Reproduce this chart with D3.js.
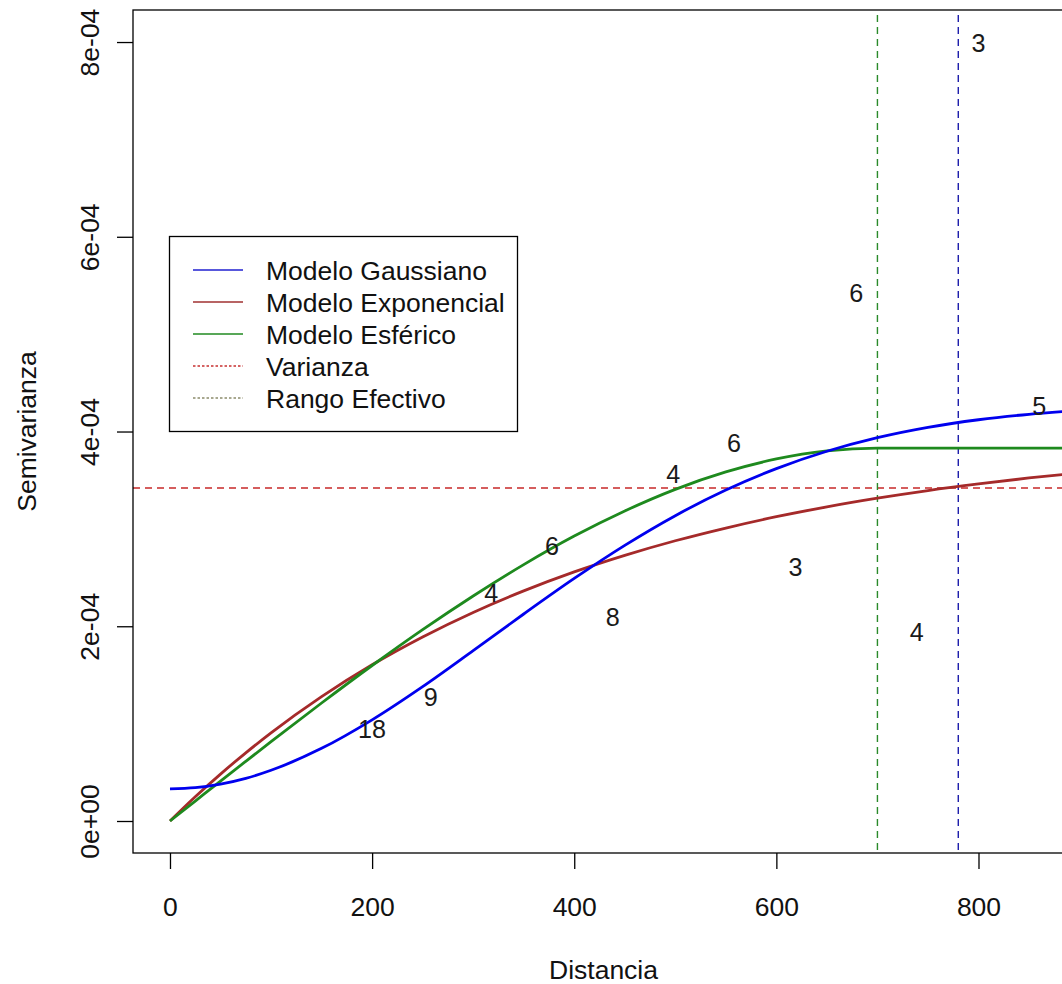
<!DOCTYPE html>
<html>
<head>
<meta charset="utf-8">
<script src="https://cdn.jsdelivr.net/npm/d3@7"></script>
<style>
  html, body { margin: 0; padding: 0; background: #ffffff; }
  svg { display: block; font-family: "Liberation Sans", Arial, sans-serif; }
</style>
</head>
<body>
<svg id="chart" width="1062" height="984"></svg>
<script>
// Distances (m) at which the fitted variogram models are evaluated
const distancias = [0, 25, 50, 75, 100, 150, 200, 250, 300, 350, 400, 450, 500, 550, 600, 650, 700, 750, 800, 850, 900];

// Fitted models (semivariance)
const modeloGaussiano = [3.30e-5, 3.42e-5, 3.79e-5, 4.38e-5, 5.21e-5, 7.46e-5, 1.039e-4, 1.380e-4, 1.750e-4, 2.126e-4, 2.491e-4, 2.831e-4, 3.136e-4, 3.399e-4, 3.619e-4, 3.797e-4, 3.937e-4, 4.043e-4, 4.121e-4, 4.177e-4, 4.217e-4];
const modeloExponencial = [0, 2.49e-5, 4.82e-5, 7.00e-5, 9.05e-5, 1.277e-4, 1.604e-4, 1.890e-4, 2.142e-4, 2.363e-4, 2.558e-4, 2.728e-4, 2.878e-4, 3.009e-4, 3.125e-4, 3.227e-4, 3.316e-4, 3.394e-4, 3.462e-4, 3.523e-4, 3.576e-4];
const modeloEsferico = [0, 2.05e-5, 4.10e-5, 6.13e-5, 8.15e-5, 1.212e-4, 1.597e-4, 1.965e-4, 2.311e-4, 2.633e-4, 2.926e-4, 3.184e-4, 3.406e-4, 3.585e-4, 3.718e-4, 3.801e-4, 3.830e-4, 3.830e-4, 3.830e-4, 3.830e-4, 3.830e-4];

// Empirical variogram: lag distance, semivariance and number of pairs
const lagDistancia = [200, 258, 318, 378, 438, 498, 558, 619, 679, 739, 800, 860];
const lagSemivarianza = [0.945e-4, 1.273e-4, 2.34e-4, 2.82e-4, 2.095e-4, 3.56e-4, 3.88e-4, 2.61e-4, 5.42e-4, 1.94e-4, 7.99e-4, 4.26e-4];
const lagPares = ["18", "9", "4", "6", "8", "4", "6", "3", "6", "4", "3", "5"];

// Reference lines
const varianza = 3.42e-4;
const rangoEsferico = 700;
const rangoGaussiano = 780;

// Axis ticks
const xTicks = [0, 200, 400, 600, 800];
const yTicks = [0, 2e-4, 4e-4, 6e-4, 8e-4];
const yTickLabels = ["0e+00", "2e-04", "4e-04", "6e-04", "8e-04"];

const legendLabels = ["Modelo Gaussiano", "Modelo Exponencial", "Modelo Esférico", "Varianza", "Rango Efectivo"];

// ---- layout ----
const plot = { left: 133, top: 10, right: 1074, bottom: 853 };
const fontSize = 26.5;

const svg = d3.select("#chart");

const x = d3.scaleLinear().domain([-36.6, 894.5]).range([plot.left, plot.right]);
const y = d3.scaleLinear().domain([-0.3286e-4, 8.329e-4]).range([plot.bottom, plot.top]);

svg.append("defs").append("clipPath").attr("id", "plotClip")
  .append("rect")
  .attr("x", plot.left).attr("y", plot.top)
  .attr("width", plot.right - plot.left).attr("height", plot.bottom - plot.top);

const inner = svg.append("g").attr("clip-path", "url(#plotClip)");

// Reference lines (variance and effective ranges)
inner.append("line")
  .attr("x1", plot.left).attr("x2", plot.right)
  .attr("y1", y(varianza)).attr("y2", y(varianza))
  .attr("stroke", "#c82828").attr("stroke-width", 1.4).attr("stroke-dasharray", "7,5");

inner.append("line")
  .attr("x1", x(rangoEsferico)).attr("x2", x(rangoEsferico))
  .attr("y1", plot.top + 5).attr("y2", plot.bottom)
  .attr("stroke", "#2a8a2a").attr("stroke-width", 1.4).attr("stroke-dasharray", "7,5");

inner.append("line")
  .attr("x1", x(rangoGaussiano)).attr("x2", x(rangoGaussiano))
  .attr("y1", plot.top + 5).attr("y2", plot.bottom)
  .attr("stroke", "#1c1caa").attr("stroke-width", 1.4).attr("stroke-dasharray", "7,5");

// Model curves
const line = d3.line().curve(d3.curveMonotoneX);
const series = [
  { values: modeloExponencial, color: "#a52a2a" },
  { values: modeloEsferico, color: "#1e8a1e" },
  { values: modeloGaussiano, color: "#0000ee" }
];
series.forEach(s => {
  inner.append("path")
    .attr("d", line(distancias.map((d, i) => [x(d), y(s.values[i])])))
    .attr("fill", "none")
    .attr("stroke", s.color)
    .attr("stroke-width", 2.8)
    .attr("stroke-linejoin", "round");
});

// Pair counts drawn at each lag
inner.selectAll("text.np")
  .data(lagDistancia)
  .join("text")
  .attr("class", "np")
  .attr("x", d => x(d))
  .attr("y", (d, i) => y(lagSemivarianza[i]))
  .attr("dy", "0.36em")
  .attr("text-anchor", "middle")
  .attr("font-size", fontSize * 0.95)
  .attr("fill", "#1a1a1a")
  .text((d, i) => lagPares[i]);

// Plot frame
svg.append("rect")
  .attr("x", plot.left).attr("y", plot.top)
  .attr("width", plot.right - plot.left).attr("height", plot.bottom - plot.top)
  .attr("fill", "none").attr("stroke", "#000").attr("stroke-width", 1.3);

// X axis
const gx = svg.append("g")
  .attr("transform", `translate(0,${plot.bottom})`)
  .call(d3.axisBottom(x).tickValues(xTicks).tickSize(16).tickFormat(d3.format("d")));
gx.select(".domain").remove();
gx.selectAll(".tick line").attr("stroke", "#000").attr("stroke-width", 1.3);
gx.selectAll(".tick text")
  .attr("y", 63).attr("dy", 0)
  .attr("font-size", fontSize).attr("fill", "#111")
  .attr("font-family", "Liberation Sans, Arial, sans-serif");

// Y axis
const gy = svg.append("g")
  .attr("transform", `translate(${plot.left},0)`)
  .call(d3.axisLeft(y).tickValues(yTicks).tickSize(16).tickFormat((d, i) => yTickLabels[i]));
gy.select(".domain").remove();
gy.selectAll(".tick line").attr("stroke", "#000").attr("stroke-width", 1.3);
gy.selectAll(".tick text")
  .attr("transform", "rotate(-90)")
  .attr("x", 0).attr("y", -34).attr("dy", 0)
  .attr("text-anchor", "middle")
  .attr("font-size", fontSize).attr("fill", "#111")
  .attr("font-family", "Liberation Sans, Arial, sans-serif");

// Axis titles
svg.append("text")
  .attr("x", (plot.left + plot.right) / 2).attr("y", 979)
  .attr("text-anchor", "middle")
  .attr("font-size", fontSize).attr("fill", "#111")
  .text("Distancia");

svg.append("text")
  .attr("transform", `translate(36,${(plot.top + plot.bottom) / 2}) rotate(-90)`)
  .attr("text-anchor", "middle")
  .attr("font-size", fontSize).attr("fill", "#111")
  .text("Semivarianza");

// Legend
const legend = svg.append("g");
legend.append("rect")
  .attr("x", 169.5).attr("y", 236.5).attr("width", 348).attr("height", 195)
  .attr("fill", "#fff").attr("stroke", "#000").attr("stroke-width", 1.3);

const legendStyles = [
  { color: "#2020d0", dash: null },
  { color: "#a03030", dash: null },
  { color: "#208a20", dash: null },
  { color: "#c83030", dash: "2.5,2" },
  { color: "#8c8c6c", dash: "2.5,2" }
];
const rowY = d3.scaleLinear().domain([0, 4]).range([270, 398]);
legendLabels.forEach((lab, i) => {
  const ly = rowY(i);
  legend.append("line")
    .attr("x1", 193).attr("x2", 243).attr("y1", ly).attr("y2", ly)
    .attr("stroke", legendStyles[i].color).attr("stroke-width", 1.6)
    .attr("stroke-dasharray", legendStyles[i].dash);
  legend.append("text")
    .attr("x", 266).attr("y", ly).attr("dy", "0.36em")
    .attr("font-size", fontSize).attr("fill", "#111")
    .text(lab);
});
</script>
</body>
</html>
